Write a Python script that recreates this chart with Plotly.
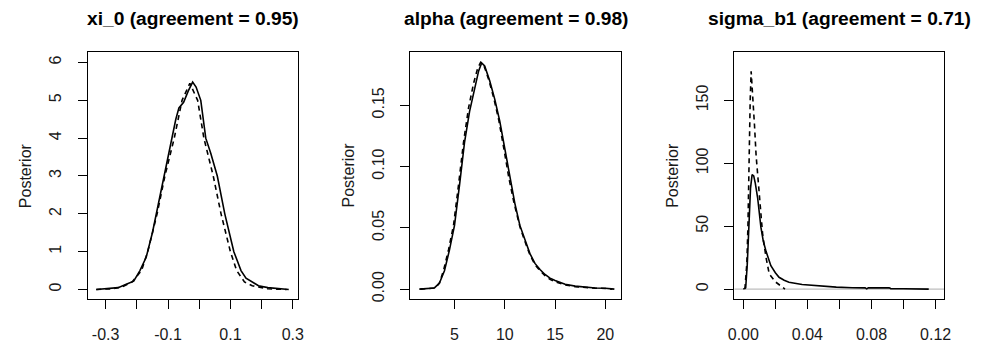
import plotly.graph_objects as go

# ---- xi_0 posterior densities (solid = model A, dashed = model B) ----
xi0_x_solid = [-0.33, -0.30, -0.26, -0.23, -0.21, -0.19, -0.17, -0.15, -0.13, -0.11,
               -0.09, -0.075, -0.065, -0.05, -0.035, -0.021, -0.01, 0.005, 0.021, 0.037,
               0.058, 0.082, 0.111, 0.134, 0.15, 0.17, 0.19, 0.22, 0.26, 0.287]
xi0_y_solid = [0.0, 0.02, 0.05, 0.15, 0.22, 0.5, 0.85, 1.5, 2.3, 3.1,
               3.9, 4.5, 4.8, 4.95, 5.25, 5.48, 5.35, 5.0, 4.0, 3.6,
               3.0, 2.0, 1.0, 0.5, 0.3, 0.2, 0.1, 0.05, 0.02, 0.0]
xi0_x_dash = [-0.33, -0.28, -0.25, -0.215, -0.185, -0.165, -0.135, -0.11, -0.08, -0.055,
              -0.03, -0.005, 0.015, 0.045, 0.07, 0.10, 0.12, 0.145, 0.17, 0.22, 0.28]
xi0_y_dash = [0.0, 0.02, 0.06, 0.2, 0.5, 1.0, 2.0, 3.0, 4.0, 5.0,
              5.45, 5.0, 4.0, 3.0, 2.0, 1.0, 0.5, 0.2, 0.1, 0.02, 0.0]

# ---- alpha posterior densities ----
alpha_x_solid = [1.5, 2.5, 3.0, 3.5, 4.0, 4.5, 5.0, 5.5, 6.0, 6.5, 7.0, 7.4, 7.7, 8.0,
                 8.5, 9.0, 9.5, 10.0, 10.5, 11.0, 11.5, 12.0, 12.5, 13.0, 13.5, 14.0,
                 14.5, 15.0, 16.0, 17.0, 18.0, 19.0, 20.0, 20.9]
alpha_y_solid = [0.0, 0.0005, 0.001, 0.005, 0.015, 0.032, 0.052, 0.085, 0.12, 0.145,
                 0.165, 0.178, 0.1845, 0.182, 0.17, 0.155, 0.137, 0.114, 0.09, 0.07,
                 0.052, 0.04, 0.029, 0.021, 0.016, 0.012, 0.009, 0.007, 0.004, 0.0025,
                 0.0015, 0.001, 0.0008, 0.0]
alpha_x_dash = [1.6, 2.6, 3.1, 3.5, 3.9, 4.4, 4.9, 5.4, 5.9, 6.4, 6.9, 7.3, 7.6, 7.9,
                8.4, 8.9, 9.4, 9.9, 10.4, 10.9, 11.5, 12.0, 12.5, 13.0, 13.5, 14.0,
                14.5, 15.0, 16.0, 17.0, 18.0, 19.0, 20.0, 20.7]
alpha_y_dash = [0.0, 0.0005, 0.001, 0.005, 0.015, 0.032, 0.052, 0.085, 0.12, 0.148,
                0.168, 0.18, 0.185, 0.183, 0.171, 0.156, 0.138, 0.115, 0.091, 0.071,
                0.051, 0.039, 0.028, 0.02, 0.015, 0.011, 0.008, 0.006, 0.0035, 0.002,
                0.0012, 0.0008, 0.0006, 0.0]

# ---- sigma_b1 posterior densities ----
sig_x_solid = [0.0, 0.0015, 0.0025, 0.0033, 0.0045, 0.0055, 0.0065, 0.0075, 0.009, 0.011,
               0.0125, 0.0142, 0.016, 0.0172, 0.020, 0.0223, 0.0255, 0.0285, 0.0367, 0.044,
               0.050, 0.058, 0.068, 0.076, 0.077, 0.078, 0.091, 0.092, 0.100, 0.1157]
sig_y_solid = [0.0, 1.0, 20.0, 50.0, 80.0, 91.0, 90.0, 84.0, 72.0, 49.0,
               38.0, 30.0, 22.0, 18.6, 13.0, 9.4, 7.0, 5.5, 3.7, 2.9,
               2.3, 1.6, 1.1, 1.0, 0.2, 1.0, 1.0, 0.4, 0.3, 0.0]
sig_x_dash = [0.001, 0.0022, 0.0029, 0.0035, 0.0043, 0.0049, 0.006, 0.007, 0.008, 0.010,
              0.0121, 0.0142, 0.0162, 0.0203, 0.0244, 0.026]
sig_y_dash = [0.0, 20.0, 50.0, 100.0, 150.0, 173.0, 153.0, 130.0, 106.0, 77.5,
              43.0, 25.0, 12.0, 5.5, 1.6, 0.0]

titles = ["xi_0 (agreement = 0.95)", "alpha (agreement = 0.98)", "sigma_b1 (agreement = 0.71)"]
y_label = "Posterior"

xi0_xticks = [-0.3, -0.2, -0.1, 0.0, 0.1, 0.2, 0.3]
xi0_xtext = ["-0.3", "", "-0.1", "", "0.1", "", "0.3"]
xi0_yticks = [0, 1, 2, 3, 4, 5, 6]
xi0_ytext = ["0", "1", "2", "3", "4", "5", "6"]
alpha_xticks = [5, 10, 15, 20]
alpha_xtext = ["5", "10", "15", "20"]
alpha_yticks = [0.0, 0.05, 0.10, 0.15]
alpha_ytext = ["0.00", "0.05", "0.10", "0.15"]
sig_xticks = [0.0, 0.02, 0.04, 0.06, 0.08, 0.10, 0.12]
sig_xtext = ["0.00", "", "0.04", "", "0.08", "", "0.12"]
sig_yticks = [0, 50, 100, 150]
sig_ytext = ["0", "50", "100", "150"]

W, H = 982, 343
FONT = "Liberation Sans, Arial, sans-serif"
TXT = "#1a1a1a"

# panel boxes in pixels: (left, right)
boxes = [(82, 295), (409, 623), (738, 951)]
box_top, box_bot = 52.5, 302.5
ydom = [1 - box_bot / H, 1 - box_top / H]

x_ranges = [[-0.357, 0.316], [0.59, 21.57], [-0.0055, 0.1255]]
y_ranges = [[-0.25, 6.28], [-0.008, 0.1935], [-7.85, 188.5]]
xticks = [(xi0_xticks, xi0_xtext), (alpha_xticks, alpha_xtext), (sig_xticks, sig_xtext)]
yticks = [(xi0_yticks, xi0_ytext), (alpha_yticks, alpha_ytext), (sig_yticks, sig_ytext)]

series = [
    (xi0_x_solid, xi0_y_solid, xi0_x_dash, xi0_y_dash),
    (alpha_x_solid, alpha_y_solid, alpha_x_dash, alpha_y_dash),
    (sig_x_solid, sig_y_solid, sig_x_dash, sig_y_dash),
]

fig = go.Figure()
layout = dict(
    width=W, height=H, margin=dict(l=0, r=0, t=0, b=0),
    paper_bgcolor="white", plot_bgcolor="white", showlegend=False,
    font=dict(family=FONT, size=16, color=TXT),
)
annotations = []
shapes = []

for i in range(3):
    sfx = "" if i == 0 else str(i + 1)
    xa, ya = "x" + sfx, "y" + sfx
    xs, ys, xd, yd = series[i]
    if i == 2:
        # grey reference line at zero density
        shapes.append(dict(type="line", xref=xa + " domain", yref=ya,
                           x0=0, x1=1, y0=0, y1=0,
                           line=dict(color="#bebebe", width=1.3), layer="below"))
    fig.add_trace(go.Scatter(x=xd, y=yd, mode="lines", xaxis=xa, yaxis=ya,
                             line=dict(color="black", width=1.6, dash="5px,4px")))
    fig.add_trace(go.Scatter(x=xs, y=ys, mode="lines", xaxis=xa, yaxis=ya,
                             line=dict(color="black", width=1.6)))
    l, r = boxes[i]
    axis_common = dict(showgrid=False, zeroline=False, showline=True, mirror=True,
                       linecolor="black", linewidth=1.2, ticks="outside", ticklen=9,
                       tickwidth=1.2, tickcolor="black",
                       tickfont=dict(family=FONT, size=16, color=TXT))
    layout["xaxis" + sfx] = dict(axis_common, domain=[l / W, r / W], range=x_ranges[i],
                                 anchor=ya, tickmode="array", tickvals=xticks[i][0],
                                 ticktext=xticks[i][1], ticklabelstandoff=12)
    layout["yaxis" + sfx] = dict(axis_common, domain=ydom, range=y_ranges[i],
                                 anchor=xa, tickmode="array", tickvals=yticks[i][0],
                                 ticktext=yticks[i][1], tickangle=-90, ticklabelstandoff=10)
    annotations.append(dict(text="<b>" + titles[i] + "</b>", xref="paper", yref="paper",
                            x=(l + r) / 2 / W, y=1 - 19 / H, xanchor="center", yanchor="middle",
                            showarrow=False, font=dict(family=FONT, size=19.2, color="black")))
    annotations.append(dict(text=y_label, xref="paper", yref="paper",
                            x=(l - 63) / W, y=1 - (box_top + box_bot) / 2 / H,
                            xanchor="center", yanchor="middle", textangle=-90,
                            showarrow=False, font=dict(family=FONT, size=16, color=TXT)))

layout["annotations"] = annotations
layout["shapes"] = shapes
fig.update_layout(**layout)
fig.write_html("out.html")
